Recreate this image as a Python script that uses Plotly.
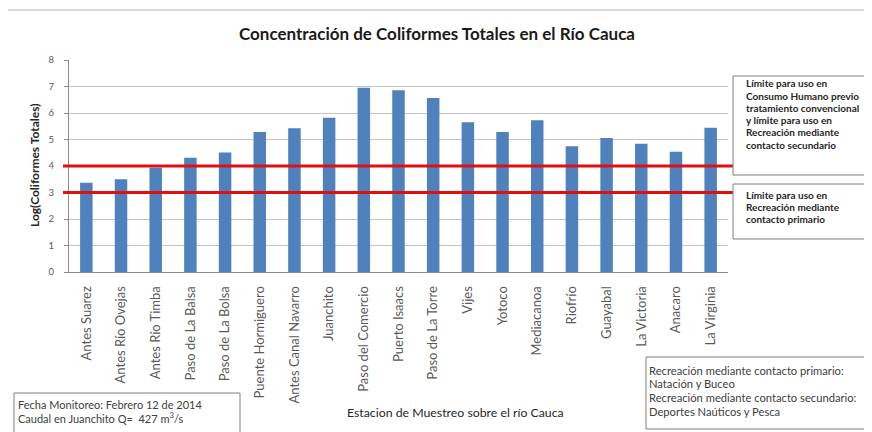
import plotly.graph_objects as go

# ---- data ----
stations = ["Antes Suarez", "Antes Río Ovejas", "Antes Río Timba", "Paso de La Balsa",
            "Paso de La Bolsa", "Puente Hormiguero", "Antes Canal Navarro", "Juanchito",
            "Paso del Comercio", "Puerto Isaacs", "Paso de La Torre", "Vijes", "Yotoco",
            "Mediacanoa", "Riofrío", "Guayabal", "La Victoria", "Anacaro", "La Virginia"]
log_coliformes = [3.37, 3.50, 3.93, 4.31, 4.51, 5.28, 5.42, 5.82, 6.95, 6.86,
                  6.57, 5.65, 5.28, 5.73, 4.75, 5.06, 4.84, 4.54, 5.44]
limits = [4, 3]
y_ticks = [0, 1, 2, 3, 4, 5, 6, 7, 8]

# page offset (browser body margin)
OFF = 8
W, H = 872 - OFF, 432 - OFF
# plot area in page pixel coordinates
L, R, T, B = 69, 728, 60, 272
FONT = "Lato"


def px(x):
    return (x - L) / (R - L)


def py(y):
    return (B - y) / (B - T)


fig = go.Figure()
fig.add_trace(go.Bar(x=stations, y=log_coliformes, marker=dict(color="#4f81bd", line=dict(width=0)),
                     width=0.36, showlegend=False))

shapes = []
for lv in limits:
    shapes.append(dict(type="line", xref="paper", yref="y", x0=px(63), x1=px(733), y0=lv, y1=lv,
                       line=dict(color="#e01010", width=3), layer="above"))

# outer chart border
shapes.append(dict(type="rect", xref="paper", yref="paper", x0=px(5), x1=px(900), y0=py(10), y1=py(460),
                   line=dict(color="#b0b0b0", width=1)))
# text boxes
boxes = [(733, 76, 900, 175), (733, 184, 900, 239), (14, 393, 240, 460), (646, 357, 900, 429)]
for (x0, y0, x1, y1) in boxes:
    shapes.append(dict(type="rect", xref="paper", yref="paper", x0=px(x0), x1=px(x1), y0=py(y0), y1=py(y1),
                       line=dict(color="#7f7f7f", width=1), fillcolor="white", layer="above"))

annotations = []


def text(x, y, s, size, color="#262626", bold=False, anchor="left", angle=0):
    annotations.append(dict(xref="paper", yref="paper", x=px(x), y=py(y), text=("<b>%s</b>" % s) if bold else s,
                            showarrow=False, xanchor=anchor, yanchor="middle", textangle=angle,
                            font=dict(family=FONT, size=size, color=color)))


text(437, 33, "Concentración de Coliformes Totales en el Río Cauca", 17, "#1a1a1a", True, "center")
text(34, 166, "Log(Coliformes Totales)", 12, "#262626", True, "center", -90)
text(455, 412, "Estacion de Muestreo sobre el río Cauca", 12.3, "#262626", False, "center")

box1 = ["Límite para uso en", "Consumo Humano previo", "tratamiento convencional",
        "y límite para uso en", "Recreación mediante", "contacto secundario"]
for i, s in enumerate(box1):
    text(744, 83.5 + i * 12.2, s, 10, "#262626", True)
box2 = ["Límite para uso en", "Recreación mediante", "contacto primario"]
for i, s in enumerate(box2):
    text(744, 195 + i * 12, s, 10, "#262626", True)
box3 = ["Fecha Monitoreo: Febrero 12 de 2014", "Caudal en Juanchito Q=  427 m<sup>3</sup>/s"]
for i, s in enumerate(box3):
    text(16, 404 + i * 13, s, 11, "#404040")
box4 = ["Recreación mediante contacto primario:", "Natación y Buceo", "Recreación mediante contacto secundario:",
        "Deportes Naúticos y Pesca"]
for i, s in enumerate(box4):
    text(647, 370 + i * 13.8, s, 11.2, "#404040")

fig.update_layout(
    width=W, height=H,
    margin=dict(l=L - OFF, r=W - (R - OFF), t=T - OFF, b=H - (B - OFF), pad=0),
    paper_bgcolor="white", plot_bgcolor="white",
    font=dict(family=FONT, color="#404040"),
    shapes=shapes, annotations=annotations,
    bargap=0.64,
)
fig.update_xaxes(type="category", range=[-0.5, len(stations) - 0.5], tickangle=-90,
                 tickfont=dict(family=FONT, size=13, color="#595959"),
                 showline=True, linecolor="#8c8c8c", linewidth=1, showgrid=False,
                 ticks="", ticklen=0, ticklabelstandoff=8)
fig.update_yaxes(range=[0, 8], tickvals=y_ticks, ticks="outside", ticklen=4, tickcolor="#8c8c8c",
                 tickfont=dict(family=FONT, size=9.5, color="#595959"), ticklabelstandoff=8,
                 showline=True, linecolor="#8c8c8c", linewidth=1,
                 showgrid=True, gridcolor="#c4c4c4", gridwidth=1, zeroline=False)

fig.write_html("out.html")
